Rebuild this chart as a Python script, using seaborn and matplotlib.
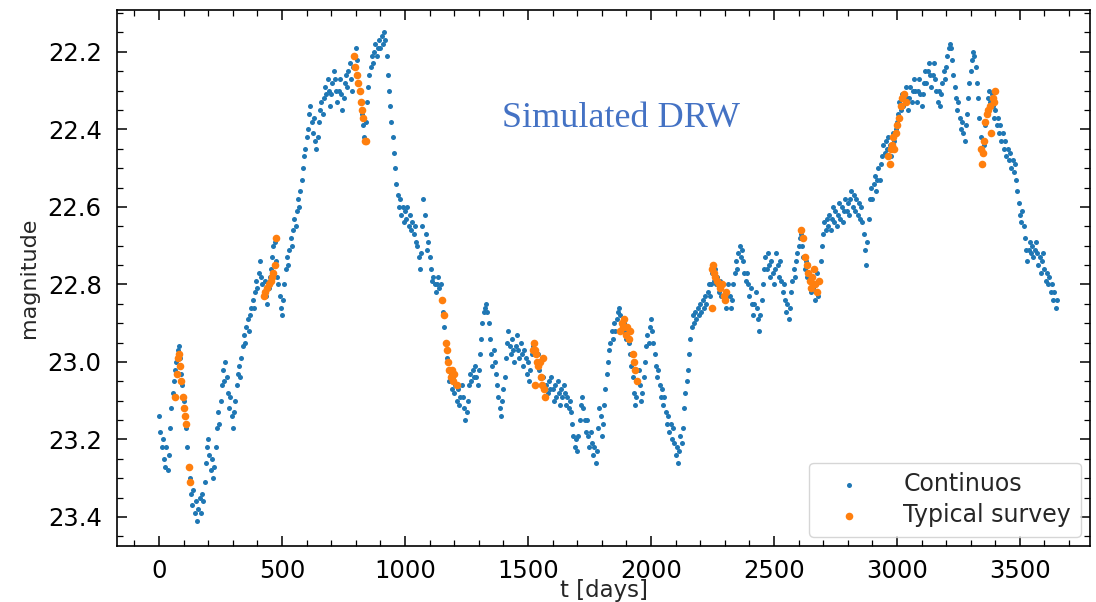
import numpy as np
import pandas as pd
import matplotlib
matplotlib.use("Agg")
import matplotlib.pyplot as plt
from matplotlib.ticker import AutoMinorLocator
import seaborn as sns

# Continuous DRW light curve, one sample every 5 days (day 0 .. 3650)
cadence_days = 5
continuous_mag = [
    23.14, 23.18, 23.22, 23.20, 23.25, 23.27, 23.22, 23.28, 23.24, 23.17, 23.12, 23.08, 23.05, 23.02, 23.00, 22.97, 22.96, 22.99, 23.03, 23.06,
    23.10, 23.14, 23.17, 23.22, 23.27, 23.30, 23.34, 23.37, 23.33, 23.39, 23.36, 23.41, 23.38, 23.35, 23.39, 23.34, 23.36, 23.31, 23.26, 23.22,
    23.20, 23.24, 23.28, 23.25, 23.30, 23.27, 23.22, 23.17, 23.13, 23.16, 23.10, 23.06, 23.02, 23.05, 23.00, 23.04, 23.08, 23.12, 23.09, 23.14,
    23.17, 23.13, 23.10, 23.06, 23.03, 23.01, 23.04, 22.99, 22.96, 22.93, 22.95, 22.91, 22.89, 22.92, 22.88, 22.86, 22.84, 22.86, 22.82, 22.79,
    22.81, 22.77, 22.74, 22.78, 22.80, 22.82, 22.79, 22.83, 22.85, 22.81, 22.78, 22.76, 22.73, 22.70, 22.69, 22.74, 22.78, 22.80, 22.83, 22.86,
    22.88, 22.84, 22.80, 22.76, 22.73, 22.75, 22.71, 22.68, 22.70, 22.66, 22.63, 22.65, 22.61, 22.58, 22.60, 22.56, 22.53, 22.50, 22.47, 22.45,
    22.42, 22.40, 22.36, 22.34, 22.38, 22.41, 22.37, 22.43, 22.45, 22.42, 22.38, 22.35, 22.33, 22.36, 22.32, 22.29, 22.31, 22.27, 22.30, 22.34,
    22.31, 22.28, 22.25, 22.27, 22.30, 22.33, 22.30, 22.27, 22.31, 22.35, 22.32, 22.28, 22.26, 22.29, 22.25, 22.23, 22.27, 22.30, 22.24, 22.21,
    22.19, 22.22, 22.26, 22.30, 22.33, 22.36, 22.39, 22.42, 22.38, 22.33, 22.29, 22.26, 22.24, 22.21, 22.23, 22.20, 22.18, 22.21, 22.19, 22.17,
    22.19, 22.16, 22.18, 22.15, 22.17, 22.21, 22.26, 22.30, 22.34, 22.38, 22.42, 22.46, 22.50, 22.54, 22.57, 22.60, 22.58, 22.62, 22.60, 22.64,
    22.61, 22.63, 22.60, 22.65, 22.62, 22.66, 22.64, 22.67, 22.65, 22.69, 22.70, 22.73, 22.76, 22.72, 22.65, 22.58, 22.62, 22.67, 22.71, 22.69,
    22.73, 22.76, 22.79, 22.78, 22.80, 22.82, 22.80, 22.78, 22.81, 22.80, 22.84, 22.87, 22.91, 22.95, 22.99, 23.02, 23.05, 23.03, 23.07, 23.04,
    23.08, 23.06, 23.10, 23.07, 23.11, 23.09, 23.06, 23.09, 23.12, 23.15, 23.13, 23.10, 23.06, 23.03, 23.05, 23.02, 23.04, 23.01, 23.04, 23.06,
    23.02, 22.98, 22.94, 22.90, 22.87, 22.86, 22.85, 22.87, 22.90, 22.94, 22.98, 23.01, 22.97, 23.00, 23.03, 23.06, 23.09, 23.12, 23.14, 23.10,
    23.07, 23.04, 22.99, 22.95, 22.92, 22.96, 22.98, 22.94, 22.97, 23.00, 22.96, 22.93, 22.97, 22.99, 22.95, 22.98, 23.01, 22.97, 22.99, 23.03,
    23.00, 23.05, 23.02, 22.98, 22.96, 22.95, 22.97, 23.00, 22.98, 23.02, 23.04, 23.06, 23.04, 23.07, 23.09, 23.06, 23.08, 23.05, 23.07, 23.04,
    23.07, 23.10, 23.06, 23.09, 23.05, 23.08, 23.11, 23.07, 23.09, 23.06, 23.08, 23.11, 23.09, 23.12, 23.10, 23.13, 23.16, 23.19, 23.22, 23.20,
    23.23, 23.19, 23.15, 23.11, 23.09, 23.12, 23.15, 23.18, 23.15, 23.19, 23.22, 23.18, 23.21, 23.24, 23.22, 23.26, 23.23, 23.17, 23.12, 23.14,
    23.19, 23.16, 23.11, 23.07, 23.03, 23.00, 22.97, 22.95, 22.92, 22.94, 22.90, 22.92, 22.89, 22.87, 22.86, 22.88, 22.90, 22.92, 22.90, 22.92,
    22.94, 22.92, 22.95, 22.98, 23.01, 23.04, 23.08, 23.11, 23.09, 23.05, 23.02, 23.06, 23.10, 23.08, 23.04, 23.00, 22.96, 22.93, 22.95, 22.91,
    22.89, 22.92, 22.95, 22.98, 23.01, 23.04, 23.02, 23.06, 23.09, 23.07, 23.11, 23.09, 23.13, 23.16, 23.14, 23.18, 23.16, 23.20, 23.17, 23.21,
    23.24, 23.22, 23.26, 23.23, 23.19, 23.21, 23.17, 23.12, 23.08, 23.05, 23.02, 22.98, 22.94, 22.91, 22.88, 22.90, 22.87, 22.89, 22.86, 22.88,
    22.85, 22.87, 22.84, 22.86, 22.83, 22.85, 22.82, 22.80, 22.83, 22.80, 22.77, 22.79, 22.76, 22.80, 22.78, 22.82, 22.79, 22.83, 22.80, 22.84,
    22.82, 22.86, 22.83, 22.80, 22.83, 22.86, 22.84, 22.80, 22.77, 22.74, 22.76, 22.72, 22.70, 22.73, 22.71, 22.74, 22.77, 22.79, 22.77, 22.80,
    22.83, 22.81, 22.85, 22.88, 22.85, 22.82, 22.86, 22.89, 22.92, 22.88, 22.84, 22.80, 22.76, 22.73, 22.76, 22.72, 22.75, 22.78, 22.74, 22.77,
    22.80, 22.76, 22.72, 22.75, 22.78, 22.74, 22.79, 22.82, 22.80, 22.84, 22.87, 22.85, 22.89, 22.86, 22.82, 22.79, 22.76, 22.78, 22.74, 22.72,
    22.70, 22.68, 22.67, 22.70, 22.73, 22.76, 22.74, 22.78, 22.75, 22.79, 22.82, 22.78, 22.81, 22.84, 22.80, 22.77, 22.83, 22.79, 22.74, 22.70,
    22.67, 22.64, 22.66, 22.63, 22.65, 22.62, 22.66, 22.63, 22.60, 22.64, 22.61, 22.65, 22.62, 22.59, 22.63, 22.60, 22.64, 22.61, 22.58, 22.61,
    22.59, 22.62, 22.58, 22.56, 22.60, 22.57, 22.61, 22.58, 22.62, 22.59, 22.63, 22.60, 22.64, 22.67, 22.71, 22.75, 22.69, 22.63, 22.58, 22.55,
    22.58, 22.54, 22.52, 22.56, 22.53, 22.50, 22.53, 22.49, 22.47, 22.44, 22.46, 22.43, 22.45, 22.42, 22.44, 22.47, 22.44, 22.41, 22.43, 22.40,
    22.38, 22.36, 22.33, 22.35, 22.31, 22.34, 22.31, 22.29, 22.32, 22.35, 22.32, 22.29, 22.33, 22.30, 22.27, 22.30, 22.33, 22.30, 22.27, 22.31,
    22.34, 22.31, 22.28, 22.25, 22.28, 22.25, 22.23, 22.26, 22.29, 22.26, 22.23, 22.27, 22.30, 22.33, 22.30, 22.34, 22.31, 22.28, 22.25, 22.27,
    22.24, 22.21, 22.19, 22.18, 22.19, 22.22, 22.26, 22.29, 22.32, 22.35, 22.33, 22.37, 22.40, 22.38, 22.41, 22.43, 22.39, 22.36, 22.32, 22.28,
    22.25, 22.22, 22.20, 22.21, 22.24, 22.28, 22.32, 22.37, 22.42, 22.46, 22.49, 22.44, 22.39, 22.35, 22.32, 22.30, 22.33, 22.31, 22.34, 22.37,
    22.35, 22.39, 22.37, 22.41, 22.39, 22.43, 22.41, 22.45, 22.43, 22.47, 22.45, 22.48, 22.46, 22.50, 22.48, 22.51, 22.49, 22.53, 22.56, 22.59,
    22.62, 22.64, 22.61, 22.65, 22.68, 22.71, 22.74, 22.71, 22.69, 22.72, 22.70, 22.73, 22.71, 22.69, 22.72, 22.75, 22.73, 22.77, 22.74, 22.72,
    22.76, 22.79, 22.77, 22.80, 22.78, 22.82, 22.80, 22.84, 22.82, 22.86, 22.84,
]
continuous_t = np.arange(len(continuous_mag)) * cadence_days

# Seasonal survey visits
survey_t = [
    66, 72, 76, 80, 84, 90, 96, 101, 106, 110, 120, 126,
    425, 432, 440, 447, 455, 460, 465, 470, 474,
    793, 797, 805, 810, 815, 820, 825, 830, 838, 842,
    1152, 1160, 1165, 1170, 1175, 1180, 1185, 1190, 1195, 1200, 1210,
    1520, 1526, 1528, 1530, 1534, 1538, 1542, 1548, 1552, 1558, 1563, 1566, 1570,
    1876, 1882, 1888, 1892, 1898, 1904, 1910, 1916, 1925, 1930, 1936, 1942,
    2248, 2250, 2254, 2258, 2262, 2268, 2275, 2282, 2288, 2295, 2300, 2305,
    2612, 2618, 2628, 2634, 2640, 2645, 2650, 2655, 2662, 2668, 2675, 2682,
    2965, 2970, 2975, 2980, 2985, 2990, 2995, 3000, 3008, 3015, 3020, 3028, 3035,
    3342, 3346, 3350, 3354, 3360, 3366, 3372, 3378, 3384, 3390, 3396, 3400,
]
survey_mag = [
    23.09, 23.03, 22.99, 22.98, 23.01, 23.05, 23.09, 23.12, 23.14, 23.16, 23.27, 23.31,
    22.83, 22.82, 22.81, 22.80, 22.79, 22.78, 22.77, 22.75, 22.68,
    22.21, 22.24, 22.26, 22.28, 22.30, 22.33, 22.35, 22.37, 22.43, 22.43,
    22.84, 22.88, 22.95, 22.97, 23.00, 23.02, 23.04, 23.02, 23.05, 23.03, 23.06,
    22.97, 22.95, 23.06, 22.97, 22.98, 23.00, 23.01, 23.00, 23.04, 23.06, 22.99, 23.07, 23.09,
    22.92, 22.90, 22.91, 22.89, 22.93, 22.91, 22.94, 22.92, 22.98, 23.00, 23.02, 23.05,
    22.86, 22.76, 22.75, 22.77, 22.78, 22.79, 22.80, 22.81, 22.80, 22.83, 22.84, 22.82,
    22.66, 22.68, 22.73, 22.75, 22.77, 22.79, 22.81, 22.78, 22.76, 22.80, 22.82, 22.79,
    22.47, 22.49, 22.45, 22.44, 22.42, 22.45, 22.41, 22.39, 22.37, 22.34, 22.32, 22.31, 22.33,
    22.45, 22.49, 22.46, 22.43, 22.38, 22.36, 22.35, 22.34, 22.41, 22.32, 22.33, 22.30,
]

continuous = pd.DataFrame({"t": continuous_t, "mag": continuous_mag})
survey = pd.DataFrame({"t": survey_t, "mag": survey_mag})

sns.set_style("ticks")
plt.rcParams.update({
    "font.family": ["DejaVu Sans"],
    "xtick.direction": "in",
    "ytick.direction": "in",
    "xtick.top": True,
    "ytick.right": True,
    "xtick.major.size": 7,
    "ytick.major.size": 7,
    "xtick.minor.size": 4,
    "ytick.minor.size": 4,
    "xtick.major.width": 1.1,
    "ytick.major.width": 1.1,
    "xtick.minor.width": 0.9,
    "ytick.minor.width": 0.9,
    "axes.linewidth": 1.2,
    "axes.edgecolor": "black",
})

fig, ax = plt.subplots(figsize=(10.96, 6.02), dpi=100)
fig.subplots_adjust(left=117 / 1096, right=1090 / 1096, top=1 - 10 / 602, bottom=1 - 546 / 602)

sns.scatterplot(data=continuous, x="t", y="mag", ax=ax, color="#1f77b4",
                s=13, linewidth=0, label="Continuos")
sns.scatterplot(data=survey, x="t", y="mag", ax=ax, color="#ff7f0e",
                s=30, linewidth=0, label="Typical survey")

ax.set_xlim(-171, 3785)
ax.set_ylim(23.475, 22.092)
ax.set_xticks([0, 500, 1000, 1500, 2000, 2500, 3000, 3500])
ax.set_yticks([22.2, 22.4, 22.6, 22.8, 23.0, 23.2, 23.4])
ax.set_yticklabels([f"{v:.1f}" for v in [22.2, 22.4, 22.6, 22.8, 23.0, 23.2, 23.4]])
ax.xaxis.set_minor_locator(AutoMinorLocator(5))
ax.yaxis.set_minor_locator(AutoMinorLocator(4))
ax.tick_params(axis="both", which="both", direction="in", top=True, right=True,
               labelsize=17.5, colors="black")
ax.tick_params(axis="y", which="major", pad=11)
ax.tick_params(axis="x", which="major", pad=9)

ax.set_xlabel("t [days]", fontsize=16.5)
ax.xaxis.set_label_coords(0.5, -0.0835)
ax.xaxis.label.set_va("center")
ax.set_ylabel("magnitude", fontsize=16, labelpad=6)

leg = ax.legend(loc="lower right", fontsize=17, frameon=True, borderaxespad=0.4,
                handlelength=2.6, handletextpad=1.0, borderpad=0.4, labelspacing=0.3)
leg.get_frame().set_edgecolor("#cccccc")

fig.text(502 / 1096, 1 - 118 / 602, "Simulated DRW", fontsize=26,
         family=["Liberation Serif", "DejaVu Serif"], color="#4472c4",
         ha="left", va="center")

fig.savefig("out.png", dpi=100, facecolor="white")
